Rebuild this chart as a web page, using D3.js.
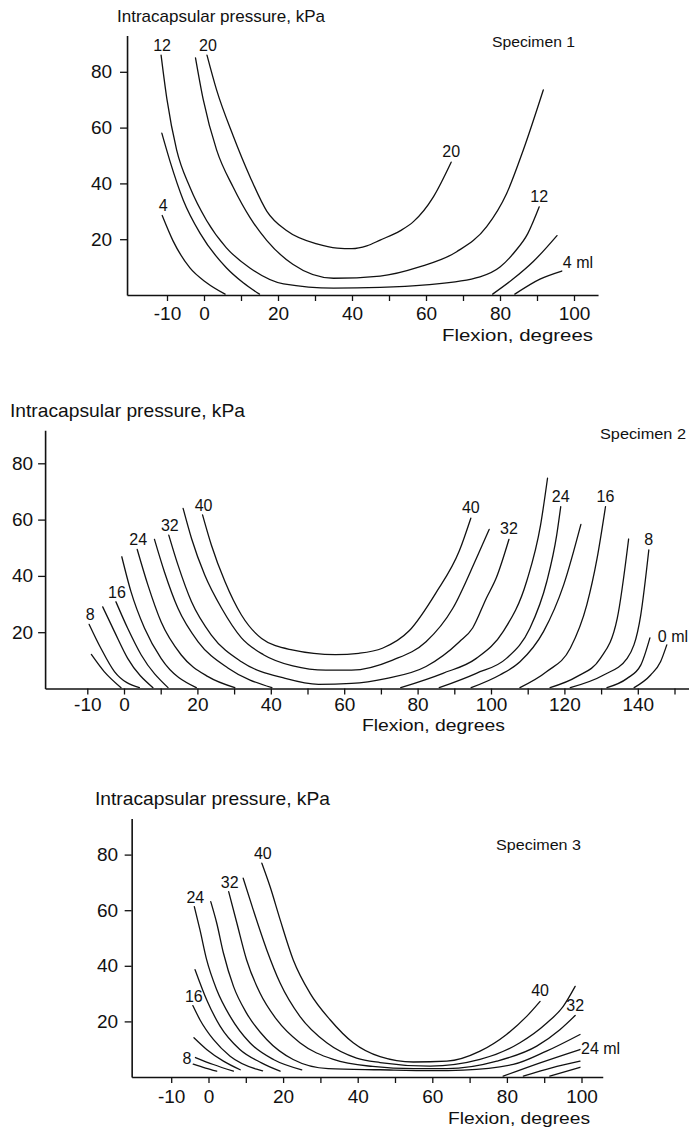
<!DOCTYPE html>
<html><head><meta charset="utf-8">
<script src="https://cdn.jsdelivr.net/npm/d3@7"></script>
<style>
html,body{margin:0;padding:0;background:#fff;}
svg{display:block;}
text{font-family:"Liberation Sans",Arial,Helvetica,sans-serif;fill:#111;}
</style>
</head><body>
<svg id="chart" width="689" height="1130"></svg>
<script>
// ---------------- DATA ----------------
// Specimen 1: flexion (degrees), intracapsular pressure (kPa), one line per volume (ml)
const spec1Volumes = [4, 8, 12, 16, 20, 8, 4];
const spec1Curves = [
  [[-11.3,28.5],[-8.4,19.5],[-3.8,9.7],[0.7,4.4],[5.7,0.3]],
  [[-11.4,58],[-9.2,48],[-5.6,34],[-1,22],[6.1,9.7],[10.6,4.4],[15,0.3]],
  [[-11.6,86],[-10,70],[-7.4,52],[-3.8,38.6],[0.7,26.7],[6,17],[12.4,9.7],[21.5,4],[35,2.5],[47.6,2.7],[60,3.6],[74.6,6.5],[80,10],[84,15.5],[87.5,22],[90.6,31.6]],
  [[-2.3,85],[-0.2,70],[3.4,52],[7.9,38.6],[12.4,27.8],[17,19.5],[24,11],[35,6],[47.6,6.8],[58,10],[68.3,15.5],[76.4,24.5],[81.8,36.4],[86.3,52],[91.7,73.5]],
  [[0.8,86],[3.4,73.5],[7.9,57],[12.4,42.5],[17,30],[22.4,23],[30.5,18.3],[36,16.8],[40,16.6],[44,17.6],[47.6,19.7],[53,23],[56.6,26.3],[62,35.2],[66.8,47.6]],
  [[78,0.3],[83.5,5.7],[89,12],[95.4,21.3]],
  [[84,0.3],[90.8,5.7],[96.7,8.6]]
];
const spec1Labels = [
  {ml:4, at:"first", text:"4"}, {ml:12, at:"first", text:"12"}, {ml:20, at:"first", text:"20"},
  {ml:20, at:"last", text:"20"}, {ml:12, at:"last", text:"12"}, {ml:4, at:"last", text:"4 ml"}
];
const spec1XTicks = [-10,0,10,20,30,40,50,60,70,80,90,100];
const spec1XLabels = [-10,0,20,40,60,80,100];
const spec1YTicks = [20,40,60,80];

// Specimen 2
const spec2Volumes = [4, 8, 12, 16, 20, 24, 28, 32, 36, 40, 28, 24, 20, 16, 12, 8, 4, 0];
const spec2Curves = [
  [[-8.9,12.1],[-5.4,6],[-0.8,0.3]],
  [[-9.5,22.8],[-6.3,14.3],[-2.6,6],[4.2,0.3]],
  [[-5.8,29],[-2.6,20.2],[1,10.7],[7.9,0.3]],
  [[-2.2,30.8],[1,21.4],[4.7,11.9],[12,0.3]],
  [[-0.6,46.8],[1.9,34.4],[5.6,21.4],[10.1,10.7],[19.7,0.3]],
  [[3.6,49.4],[6.5,36.8],[10.1,23.7],[15.6,11.9],[22.9,4.2],[30.2,0.3]],
  [[8.3,53],[11,41.5],[14.7,28.5],[20.2,16.6],[28.4,7.2],[40.3,0.3]],
  [[12.2,54.5],[14.7,43.9],[18.4,30.8],[23.8,19],[32,9.5],[43.9,3.6],[53,1.5],[62,1.8],[71.3,3.5],[82.3,7.8],[91.4,16.6],[95,21.5],[98.7,32],[101.5,39.5],[104.9,53]],
  [[16.1,64],[18.4,53.3],[22,40.3],[26.6,28.5],[32,18],[38,12],[46,8],[55,6.5],[62,6.5],[73.2,10.1],[82.3,16.6],[89.6,28.5],[96,46.2],[99.5,56.5]],
  [[21.4,61.7],[23.8,51],[27.5,38],[32,26.1],[37.5,17.8],[45.8,13.7],[57.6,12],[64,12.5],[70.4,14.3],[77.7,20.5],[85,34],[91.4,49],[94.5,60.5]],
  [[75.4,0.3],[86.9,5.4],[96,10.7],[103.3,20.2],[109.7,38],[113.5,58],[115.4,74.7]],
  [[85.9,0.3],[96,5.4],[104.2,10.7],[110.6,21.4],[115.2,38],[117.9,54.5],[119,64.6]],
  [[94.6,0.3],[102.4,4.8],[107.9,9.5],[114.3,20.2],[119.8,36.8],[124.5,58.3]],
  [[107.9,0.3],[115.2,6],[121.6,14.3],[126.1,29.7],[128.9,46.2],[131.2,64.6]],
  [[116.1,0.3],[123.4,4.2],[129.8,10.7],[134.4,24.9],[137.5,53.1]],
  [[121.6,0.3],[130.7,4.8],[137.1,10.7],[140.8,26.1],[143,49.2]],
  [[131.6,0.3],[137.1,3.6],[140.8,8.3],[143.3,18]],
  [[139,0.3],[143.5,4.8],[146.2,9.5],[147.9,15.5]]
];
const spec2Labels = [
  {ml:8, at:"first", text:"8"}, {ml:16, at:"first", text:"16"}, {ml:24, at:"first", text:"24"},
  {ml:32, at:"first", text:"32"}, {ml:40, at:"first", text:"40"},
  {ml:40, at:"last", text:"40"}, {ml:32, at:"last", text:"32"}, {ml:24, at:"last", text:"24"},
  {ml:16, at:"last", text:"16"}, {ml:8, at:"last", text:"8"}, {ml:0, at:"last", text:"0 ml"}
];
const spec2XTicks = [-10,0,10,20,30,40,50,60,70,80,90,100,110,120,130,140,150];
const spec2XLabels = [-10,0,20,40,60,80,100,120,140];
const spec2YTicks = [20,40,60,80];

// Specimen 3
const spec3Volumes = [4, 8, 12, 16, 20, 24, 28, 32, 36, 40, 24, 20, 16];
const spec3Curves = [
  [[-4.1,4.6],[-0.8,3.2],[2.2,2.1]],
  [[-3.5,7],[1.3,4.5],[6.7,2.1]],
  [[-3.9,14.1],[-0.5,9.9],[4,5.7],[8.5,2.6]],
  [[-4.2,25.7],[-2.3,20.6],[1.3,13.5],[5.8,7.5],[12.9,2.8],[14.5,2.2]],
  [[-3.6,38.6],[-0.5,27.8],[3.1,18.3],[8.4,9.9],[14.2,5.1],[19.2,2.1]],
  [[-3.8,61.3],[-2.3,53],[-0.5,42.2],[2.2,31.4],[5.8,21.8],[11.1,12.3],[17.4,6.3],[25,2.6]],
  [[0.6,63.1],[2.2,55.4],[4,44.6],[6.7,32.6],[10.2,23],[15.6,13.5],[22.7,6.3],[32.1,3],[46,2.6],[60,2.3],[68.3,2.5],[81.7,4.5],[90.6,9.3],[99.6,15.3]],
  [[5.4,66.7],[7.6,55.4],[10.2,42.2],[13.8,30.2],[18.3,20.6],[24.5,12.3],[33.5,6.3],[44,3.8],[55,3],[63.9,3],[77.3,5.7],[88,11.1],[94.2,17],[98.3,22.1]],
  [[9.3,71.5],[12,60.1],[15.6,45.8],[19.2,33.8],[24.5,21.8],[31.7,12.3],[39.7,6.8],[46,5.2],[59.4,3.9],[72.8,6.3],[83.5,12.3],[90.7,19.4],[95.1,25.4],[98.3,32.6]],
  [[14.3,76.9],[16.5,68.5],[19.2,56.6],[22.7,42.2],[27.2,30.2],[32.6,20.6],[38.8,12.3],[46,7.3],[54.9,5.4],[63.9,5.7],[72.8,9.3],[79.9,15.3],[85.3,21.8],[88.9,27.2]],
  [[79,0.3],[88.9,5.1],[99.6,9.9]],
  [[84.4,0.3],[92,3.3],[99.6,5.7]],
  [[91.5,0.3],[99.6,3.5]]
];
const spec3Labels = [
  {ml:8, at:"first", text:"8"}, {ml:16, at:"first", text:"16"}, {ml:24, at:"first", text:"24"},
  {ml:32, at:"first", text:"32"}, {ml:40, at:"first", text:"40"},
  {ml:40, at:"last", text:"40"}, {ml:32, at:"last", text:"32"}, {ml:24, at:"last", text:"24 ml"}
];
const spec3XTicks = [-10,0,10,20,30,40,50,60,70,80,90,100];
const spec3XLabels = [-10,0,20,40,60,80,100];
const spec3YTicks = [20,40,60,80];

const yTitle = "Intracapsular pressure, kPa";
const xTitle = "Flexion, degrees";

// ---------------- LAYOUT (positions / styles) ----------------
const panels = [
  { name:"Specimen 1", volumes:spec1Volumes, curves:spec1Curves, labels:spec1Labels,
    xTicks:spec1XTicks, xLabels:spec1XLabels, yTicks:spec1YTicks,
    x0:204, kx:3.7, xDom:[-20.8,106.5], y0:295, ky:2.79, yTop:93,
    xPad:6, yPad:8, tickFont:19,
    title:{x:117, y:22, size:17, len:208},
    spec:{x:492, y:47, size:15.5, len:83},
    flex:{x:442, y:341, size:17, len:151},
    nudges:{} },
  { name:"Specimen 2", volumes:spec2Volumes, curves:spec2Curves, labels:spec2Labels,
    xTicks:spec2XTicks, xLabels:spec2XLabels, yTicks:spec2YTicks,
    x0:124, kx:3.67, xDom:[-21.5,153.9], y0:688.5, ky:2.815, yTop:91.7,
    xPad:3, yPad:5, tickFont:19,
    title:{x:10, y:417, size:19, len:235},
    spec:{x:600, y:439, size:15.5, len:86},
    flex:{x:362, y:731, size:16, len:143},
    nudges:{"0-last":{dx:-9, dy:-3}} },
  { name:"Specimen 3", volumes:spec3Volumes, curves:spec3Curves, labels:spec3Labels,
    xTicks:spec3XTicks, xLabels:spec3XLabels, yTicks:spec3YTicks,
    x0:208.5, kx:3.73, xDom:[-20.6,105.7], y0:1077, ky:2.78, yTop:93,
    xPad:7, yPad:6.5, tickFont:19,
    title:{x:95, y:805, size:19, len:235},
    spec:{x:496, y:850, size:15.5, len:85},
    flex:{x:448, y:1124, size:16, len:142},
    nudges:{"8-first":{anchor:"end", dx:-4, dy:6}, "24-last":{dx:1, dy:5}} }
];

const svg = d3.select("#chart");
svg.append("rect").attr("width",689).attr("height",1130).attr("fill","#fff");

function drawPanel(P){
  const x = d3.scaleLinear().domain(P.xDom).range(P.xDom.map(d => P.x0 + P.kx*d));
  const y = d3.scaleLinear().domain([0, P.yTop]).range([P.y0, P.y0 - P.ky*P.yTop]);
  const g = svg.append("g");

  const xAxis = d3.axisBottom(x).tickValues(P.xTicks).tickSize(6).tickSizeOuter(0)
    .tickPadding(P.xPad).tickFormat(d => P.xLabels.includes(d) ? String(d) : "");
  const gx = g.append("g").attr("transform", `translate(0,${y(0)})`).call(xAxis);
  const yAxis = d3.axisLeft(y).tickValues(P.yTicks).tickSize(7).tickSizeOuter(0)
    .tickPadding(P.yPad).tickFormat(d => String(d));
  const gy = g.append("g").attr("transform", `translate(${x(P.xDom[0])},0)`).call(yAxis);
  [gx, gy].forEach(a => {
    a.select(".domain").attr("stroke","#111").attr("stroke-width",1.6);
    a.selectAll(".tick line").attr("stroke","#111").attr("stroke-width",1.3);
    a.selectAll(".tick text").attr("fill","#111").style("font-size", P.tickFont+"px")
      .style("font-family",'"Liberation Sans",Arial,sans-serif');
  });

  const line = d3.line().x(d => x(d[0])).y(d => y(d[1])).curve(d3.curveMonotoneX);
  g.append("g").selectAll("path").data(P.curves).join("path")
    .attr("d", line).attr("fill","none").attr("stroke","#111").attr("stroke-width",1.3)
    .attr("stroke-linejoin","round").attr("stroke-linecap","round");

  P.labels.forEach(L => {
    const idx = P.volumes.map((v,i) => v === L.ml ? i : -1).filter(i => i >= 0);
    let pt;
    if (L.at === "first") pt = P.curves[idx[0]][0];
    else { const c = P.curves[idx[idx.length-1]]; pt = c[c.length-1]; }
    const px = x(pt[0]), py = y(pt[1]);
    const isMl = L.text.indexOf("ml") >= 0;
    let anchor = "middle", dx = 1, dy = -4;
    if (L.at === "last") { if (isMl) { anchor = "start"; dx = 1; dy = -3; } else { dx = 0; dy = -5; } }
    const n = P.nudges[L.ml + "-" + L.at];
    if (n) { if (n.anchor) anchor = n.anchor; if (n.dx !== undefined) dx = n.dx; if (n.dy !== undefined) dy = n.dy; }
    g.append("text").attr("x", px + dx).attr("y", py + dy).attr("text-anchor", anchor)
      .style("font-size","16px").text(L.text);
  });

  const addText = (t, s) => g.append("text").attr("x", s.x).attr("y", s.y)
    .attr("textLength", s.len).attr("lengthAdjust","spacingAndGlyphs")
    .style("font-size", s.size+"px").text(t);
  addText(yTitle, P.title);
  addText(P.name, P.spec);
  addText(xTitle, P.flex);
}
panels.forEach(drawPanel);
</script>
</body></html>
